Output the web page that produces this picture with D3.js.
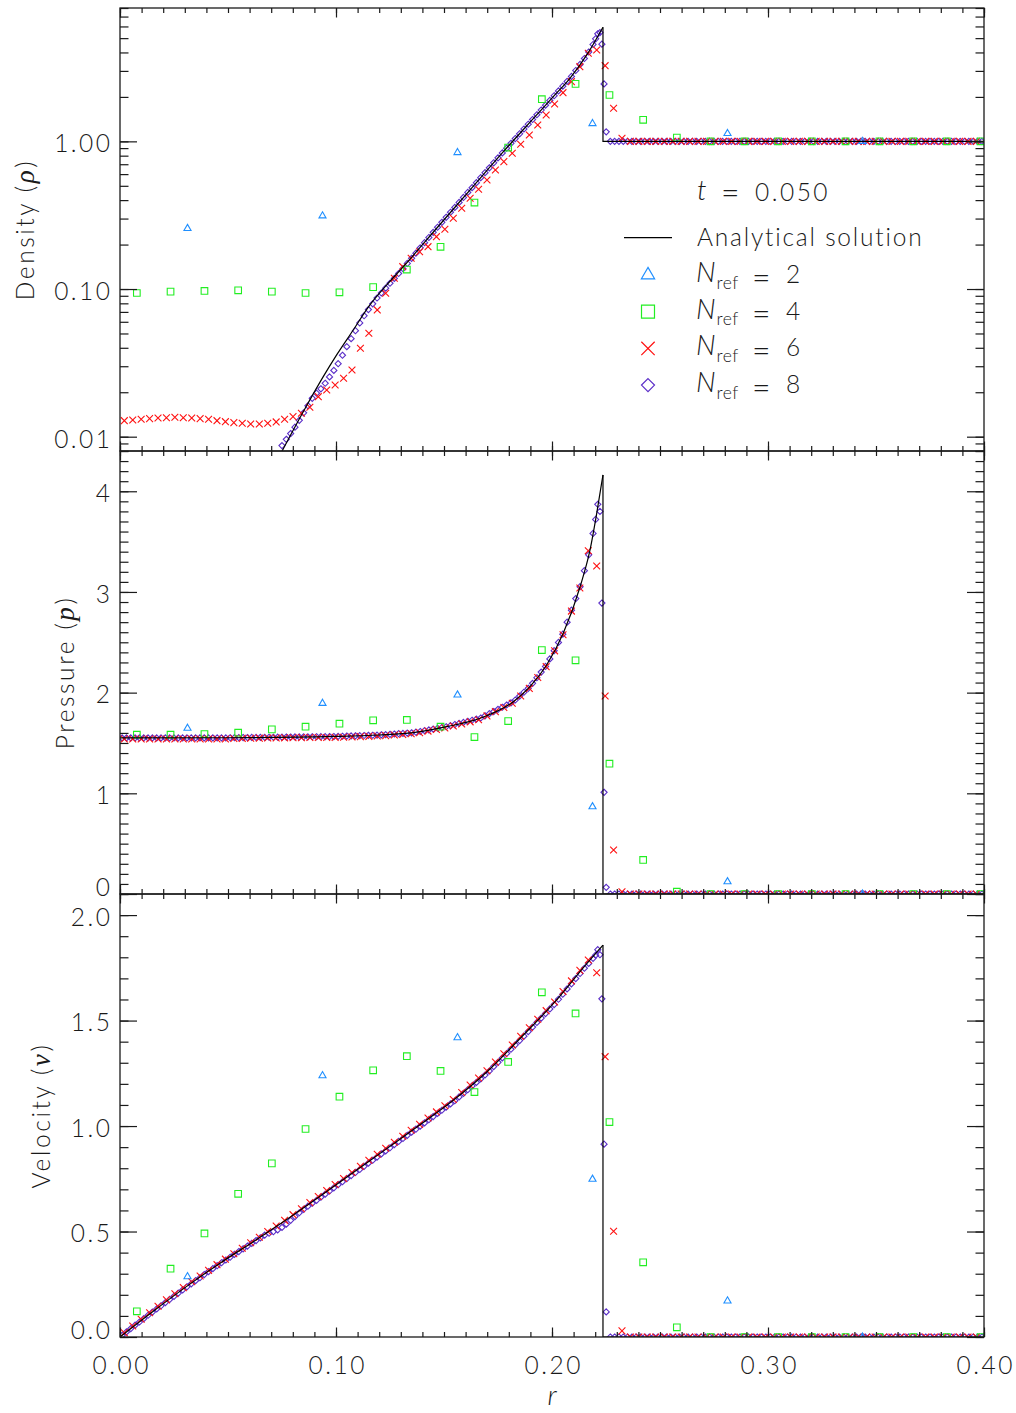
<!DOCTYPE html>
<html><head><meta charset="utf-8">
<script src="https://cdn.jsdelivr.net/npm/d3@7"></script>
<style>
body{margin:0;background:#fff;}
svg text{font-family:Lato,"Open Sans",sans-serif;font-weight:300;}
</style></head><body>
<svg id="c" width="1016" height="1413"></svg>
<script>
// ---------------- data ----------------
const xDomain=[0,0.4];
const rhoDomain=[0.008,8];
const pDomain=[0,4.4];
const vDomain=[0,2.1];
const xTicks=[0,0.1,0.2,0.3,0.4];
const xTickLabels=["0.00","0.10","0.20","0.30","0.40"];
const rhoTicks=[0.01,0.1,1];
const rhoTickLabels=["0.01","0.10","1.00"];
const pTicks=[0,1,2,3,4];
const pTickLabels=["0","1","2","3","4"];
const vTicks=[0,0.5,1,1.5,2];
const vTickLabels=["0.0","0.5","1.0","1.5","2.0"];
const timeLabel="0.050";
const lineLabel="Analytical solution";
const nrefLabels=["2","4","6","8"];

// analytical solution
const anaRhoR=[0.0749,0.0849,0.0941,0.1003,0.1080,0.1157,0.1235,0.1312,0.1466,0.1620,0.1775,0.1929,0.2006,0.2083,0.2161,0.2236,0.2236,0.4];
const anaRho=[0.00792,0.0148,0.0255,0.0358,0.0528,0.078,0.1066,0.1417,0.258,0.468,0.852,1.51,2.01,2.675,3.85,5.93,1.0,1.0];
const anaPR=[0,0.05,0.10,0.12,0.1358,0.1512,0.1667,0.1821,0.1898,0.1975,0.2052,0.2130,0.2176,0.2207,0.2236,0.2236,0.4];
const anaP=[1.550,1.552,1.565,1.579,1.602,1.662,1.745,1.910,2.059,2.274,2.589,3.052,3.417,3.781,4.162,0,0];
const anaVR=[0,0.0154,0.0309,0.0463,0.0617,0.0772,0.0926,0.1080,0.1235,0.1389,0.1543,0.1698,0.1852,0.2006,0.2161,0.2236,0.2236,0.4];
const anaV=[0,0.122,0.240,0.350,0.452,0.557,0.667,0.780,0.893,1.006,1.122,1.256,1.415,1.580,1.770,1.858,0,0];

// N_ref = 2
const n2R=[0.03125,0.09375,0.15625,0.21875,0.28125,0.34375];
const n2Rho=[0.257,0.313,0.84,1.32,1.13,1.0];
const n2P=[1.646,1.894,1.977,0.867,0.122,0.0];
const n2V=[0.286,1.239,1.419,0.748,0.171,0.0];

// N_ref = 4
const n4R=[0.0078,0.0234,0.0391,0.0547,0.0703,0.0859,0.1016,0.1172,0.1328,0.1484,0.1641,0.1797,0.1953,0.2109,0.2266,0.2422,0.2578,0.2734,0.2891,0.3047,0.3203,0.3359,0.3516,0.3672,0.3828,0.3984];
const n4Rho=[0.094,0.096,0.097,0.098,0.096,0.094,0.095,0.103,0.1355,0.193,0.385,0.908,1.93,2.45,2.06,1.40,1.06,1,1,1,1,1,1,1,1,1];
const n4P=[1.582,1.582,1.589,1.602,1.635,1.662,1.692,1.725,1.729,1.662,1.559,1.718,2.423,2.321,1.294,0.338,0.023,0,0,0,0,0,0,0,0,0];
const n4V=[0.122,0.324,0.491,0.679,0.823,0.986,1.139,1.264,1.331,1.261,1.161,1.304,1.634,1.534,1.019,0.354,0.046,0,0,0,0,0,0,0,0,0];

// N_ref = 6 (inner region + undisturbed region)
const n6RIn=[0.0020,0.0059,0.0098,0.0137,0.0176,0.0215,0.0254,0.0293,0.0332,0.0371,
0.0410,0.0449,0.0488,0.0527,0.0566,0.0605,0.0645,0.0684,0.0723,0.0762,
0.0801,0.0840,0.0879,0.0918,0.0957,0.0996,0.1035,0.1074,0.1113,0.1152,
0.1191,0.1230,0.1270,0.1309,0.1348,0.1387,0.1426,0.1465,0.1504,0.1543,
0.1582,0.1621,0.1660,0.1699,0.1738,0.1777,0.1816,0.1855,0.1895,0.1934,
0.1973,0.2012,0.2051,0.2090,0.2129,0.2168,0.2207,0.2246,0.2285,0.2324];
const n6RhoIn=[0.01284,0.01298,0.01312,0.01325,0.01339,0.01345,0.01354,0.01345,0.01339,0.01325,
0.01312,0.01284,0.01264,0.01245,0.01233,0.0122,0.0122,0.01233,0.01259,0.01312,
0.01367,0.01441,0.01583,0.01867,0.02073,0.0224,0.02487,0.0283,0.0397,0.0502,
0.0722,0.0936,0.1183,0.1417,0.1616,0.179,0.1936,0.2263,0.254,0.3014,
0.352,0.412,0.474,0.548,0.640,0.729,0.831,0.956,1.105,1.291,
1.509,1.792,2.137,2.537,3.205,3.951,4.16,3.255,1.675,1.05];
const n6PIn=[1.54,1.54,1.54,1.54,1.54,1.54,1.54,1.54,1.54,1.54,
1.54,1.54,1.54,1.545,1.546,1.547,1.548,1.549,1.55,1.551,
1.552,1.553,1.554,1.555,1.555,1.556,1.557,1.56,1.563,1.566,
1.569,1.573,1.579,1.585,1.591,1.603,1.618,1.634,1.649,1.669,
1.689,1.71,1.731,1.769,1.811,1.853,1.895,1.966,2.042,2.15,
2.258,2.415,2.575,2.81,3.04,3.41,3.258,1.967,0.437,0.023];
const n6VIn=[0.02,0.052,0.084,0.115,0.146,0.176,0.205,0.234,0.262,0.289,
0.316,0.343,0.369,0.395,0.421,0.447,0.473,0.50,0.526,0.553,
0.580,0.608,0.637,0.666,0.694,0.723,0.751,0.780,0.809,0.838,
0.866,0.895,0.923,0.952,0.980,1.008,1.038,1.067,1.096,1.126,
1.159,1.194,1.228,1.262,1.303,1.343,1.384,1.425,1.466,1.506,
1.547,1.588,1.638,1.688,1.738,1.787,1.727,1.329,0.501,0.029];
const n6ROut=[0.2363,0.2402,0.2441,0.2480,0.2520,0.2559,0.2598,0.2637,0.2676,0.2715,
0.2754,0.2793,0.2832,0.2871,0.2910,0.2949,0.2988,0.3027,0.3066,0.3105,
0.3145,0.3184,0.3223,0.3262,0.3301,0.3340,0.3379,0.3418,0.3457,0.3496,
0.3535,0.3574,0.3613,0.3652,0.3691,0.3730,0.3770,0.3809,0.3848,0.3887,
0.3926,0.3965];
const n6RhoOut=[1,1,1,1,1,1,1,1,1,1,1,1,1,1,1,1,1,1,1,1,1,1,1,1,1,1,1,1,1,1,1,1,1,1,1,1,1,1,1,1,1,1];
const n6POut=[0,0,0,0,0,0,0,0,0,0,0,0,0,0,0,0,0,0,0,0,0,0,0,0,0,0,0,0,0,0,0,0,0,0,0,0,0,0,0,0,0,0];
const n6VOut=[0,0,0,0,0,0,0,0,0,0,0,0,0,0,0,0,0,0,0,0,0,0,0,0,0,0,0,0,0,0,0,0,0,0,0,0,0,0,0,0,0,0];

// N_ref = 8 (inner region, shock cells, undisturbed region)
const n8RIn=[0.001,0.003,0.005,0.007,0.009,0.011,0.013,0.015,0.017,0.019,
0.021,0.023,0.025,0.027,0.029,0.031,0.033,0.035,0.037,0.039,
0.041,0.043,0.045,0.047,0.049,0.051,0.053,0.055,0.057,0.059,
0.061,0.063,0.065,0.067,0.069,0.071,0.073,0.075,0.077,0.079,
0.081,0.083,0.085,0.087,0.089,0.091,0.093,0.095,0.097,0.099,
0.101,0.103,0.105,0.107,0.109,0.111,0.113,0.115,0.117,0.119,
0.121,0.123,0.125,0.127,0.129,0.131,0.133,0.135,0.137,0.139,
0.141,0.143,0.145,0.147,0.149,0.151,0.153,0.155,0.157,0.159,
0.161,0.163,0.165,0.167,0.169,0.171,0.173,0.175,0.177,0.179,
0.181,0.183,0.185,0.187,0.189,0.191,0.193,0.195,0.197,0.199,
0.201,0.203,0.205,0.207,0.209,0.211,0.213,0.215,0.217,0.219];
const n8RhoIn=[null,null,null,null,null,null,null,null,null,null,
null,null,null,null,null,null,null,null,null,null,
null,null,null,null,null,null,null,null,null,null,
null,null,null,null,null,null,null,0.0087,0.0096,0.0105,
0.0116,0.0129,0.0145,0.0162,0.0182,0.0197,0.0211,0.0230,0.0254,0.0281,
0.0312,0.0356,0.0407,0.0461,0.0522,0.0589,0.0659,0.0726,0.0794,0.0869,
0.0940,0.1014,0.1094,0.118,0.1274,0.1374,0.149,0.1614,0.175,0.190,
0.206,0.2234,0.242,0.262,0.283,0.306,0.331,0.357,0.386,0.417,
0.451,0.486,0.525,0.568,0.614,0.662,0.716,0.773,0.835,0.899,
0.970,1.045,1.125,1.213,1.306,1.406,1.514,1.63,1.758,1.892,
2.037,2.196,2.366,2.547,2.754,3.02,3.32,3.64,4.03,4.53];
const n8PIn=[1.55,1.55,1.55,1.55,1.55,1.55,1.55,1.55,1.55,1.55,
1.55,1.55,1.55,1.55,1.55,1.55,1.55,1.55,1.55,1.55,
1.55,1.55,1.55,1.55,1.55,1.552,1.553,1.553,1.554,1.554,
1.555,1.555,1.556,1.556,1.557,1.557,1.558,1.558,1.559,1.559,
1.56,1.56,1.561,1.561,1.562,1.562,1.563,1.563,1.564,1.564,
1.566,1.567,1.569,1.57,1.571,1.573,1.574,1.576,1.577,1.578,
1.581,1.583,1.586,1.589,1.592,1.595,1.598,1.601,1.607,1.614,
1.622,1.63,1.638,1.646,1.654,1.661,1.672,1.683,1.694,1.704,
1.715,1.726,1.737,1.748,1.77,1.791,1.812,1.834,1.855,1.877,
1.898,1.927,1.966,2.004,2.043,2.092,2.148,2.204,2.26,2.335,
2.417,2.499,2.581,2.70,2.819,2.934,3.052,3.211,3.369,3.581];
const n8VIn=[0.008,0.024,0.040,0.056,0.071,0.087,0.103,0.118,0.133,0.148,
0.163,0.178,0.193,0.208,0.223,0.238,0.252,0.267,0.281,0.296,
0.310,0.324,0.338,0.352,0.365,0.378,0.392,0.405,0.418,0.431,
0.444,0.457,0.470,0.483,0.492,0.499,0.508,0.520,0.535,0.553,
0.571,0.589,0.605,0.620,0.634,0.648,0.663,0.677,0.692,0.707,
0.722,0.736,0.751,0.765,0.780,0.794,0.809,0.824,0.838,0.853,
0.868,0.882,0.897,0.912,0.927,0.941,0.956,0.971,0.985,1.000,
1.015,1.030,1.045,1.060,1.075,1.090,1.105,1.120,1.138,1.155,
1.172,1.190,1.207,1.224,1.242,1.261,1.282,1.302,1.323,1.344,
1.364,1.385,1.405,1.426,1.448,1.469,1.491,1.512,1.533,1.555,
1.576,1.601,1.625,1.650,1.674,1.699,1.723,1.748,1.771,1.795];
const n8RShock=[0.2202,0.2212,0.2222,0.2231,0.2241,0.2251];
const n8RhoShock=[4.95,5.35,5.45,4.55,2.45,1.16];
const n8PShock=[3.72,3.87,3.80,2.89,1.01,0.066];
const n8VShock=[1.81,1.836,1.812,1.603,0.914,0.119];
const n8ROut=[0.227,0.229,0.231,0.233,0.235,0.237,0.239,0.241,0.243,0.245,
0.247,0.249,0.251,0.253,0.255,0.257,0.259,0.261,0.263,0.265,
0.267,0.269,0.271,0.273,0.275,0.277,0.279,0.281,0.283,0.285,
0.287,0.289,0.291,0.293,0.295,0.297,0.299,0.301,0.303,0.305,
0.307,0.309,0.311,0.313,0.315,0.317,0.319,0.321,0.323,0.325,
0.327,0.329,0.331,0.333,0.335,0.337,0.339,0.341,0.343,0.345,
0.347,0.349,0.351,0.353,0.355,0.357,0.359,0.361,0.363,0.365,
0.367,0.369,0.371,0.373,0.375,0.377,0.379,0.381,0.383,0.385,
0.387,0.389,0.391,0.393,0.395,0.397,0.399];
const n8RhoOut=[1,1,1,1,1,1,1,1,1,1,1,1,1,1,1,1,1,1,1,1,1,1,1,1,1,1,1,1,1,1,1,1,1,1,1,1,1,1,1,1,1,1,1,1,1,1,1,1,1,1,1,1,1,1,1,1,1,1,1,1,1,1,1,1,1,1,1,1,1,1,1,1,1,1,1,1,1,1,1,1,1,1,1,1,1,1,1];
const n8POut=[0,0,0,0,0,0,0,0,0,0,0,0,0,0,0,0,0,0,0,0,0,0,0,0,0,0,0,0,0,0,0,0,0,0,0,0,0,0,0,0,0,0,0,0,0,0,0,0,0,0,0,0,0,0,0,0,0,0,0,0,0,0,0,0,0,0,0,0,0,0,0,0,0,0,0,0,0,0,0,0,0,0,0,0,0,0,0];
const n8VOut=[0,0,0,0,0,0,0,0,0,0,0,0,0,0,0,0,0,0,0,0,0,0,0,0,0,0,0,0,0,0,0,0,0,0,0,0,0,0,0,0,0,0,0,0,0,0,0,0,0,0,0,0,0,0,0,0,0,0,0,0,0,0,0,0,0,0,0,0,0,0,0,0,0,0,0,0,0,0,0,0,0,0,0,0,0,0,0];

// ---------------- drawing ----------------
const L=120,R=984,PH=443;
const SANS='Lato,"Open Sans",sans-serif';
const SERIF='"Liberation Serif","DejaVu Serif",serif';
const INK='#1a1a1a';
const TICKFS=24.5, TICKLS=2.5;
const svg=d3.select('#c');
const x=d3.scaleLinear().domain(xDomain).range([L,R]);
const yRho=d3.scaleLog().domain(rhoDomain).range([8+PH,8]);
const yP=d3.scaleLinear().domain(pDomain).range([8+2*PH,8+PH]);
const yV=d3.scaleLinear().domain(vDomain).range([8+3*PH,8+2*PH]);

const series=[
 {r:n8RIn.concat(n8RShock,n8ROut),rho:n8RhoIn.concat(n8RhoShock,n8RhoOut),p:n8PIn.concat(n8PShock,n8POut),v:n8VIn.concat(n8VShock,n8VOut),sym:d3.symbolDiamond2,size:24,color:'#5a2dc8'},
 {r:n6RIn.concat(n6ROut),rho:n6RhoIn.concat(n6RhoOut),p:n6PIn.concat(n6POut),v:n6VIn.concat(n6VOut),sym:d3.symbolTimes,size:32,color:'#ff1010'},
 {r:n4R,rho:n4Rho,p:n4P,v:n4V,sym:d3.symbolSquare2,size:56,color:'#22ee22'},
 {r:n2R,rho:n2Rho,p:n2P,v:n2V,sym:d3.symbolTriangle2,size:36,color:'#1f8fff'}
];

const panels=[
 {key:'rho',y:yRho,top:8,ticks:rhoTicks,labels:rhoTickLabels,minor:yRho.ticks(),title:['Density (','ρ',')'],tx:34,ana:[anaRhoR,anaRho]},
 {key:'p',y:yP,top:8+PH,ticks:pTicks,labels:pTickLabels,minor:yP.ticks(44),title:['Pressure (','p',')'],tx:74,ana:[anaPR,anaP]},
 {key:'v',y:yV,top:8+2*PH,ticks:vTicks,labels:vTickLabels,minor:yV.ticks(21),title:['Velocity (','v',')'],tx:50,ana:[anaVR,anaV]}
];

function styleAxis(sel){
  sel.select('.domain').remove();
  sel.attr('font-family',null).attr('font-size',null).attr('color',INK);
  sel.selectAll('line').attr('stroke-width',1.2);
  sel.selectAll('text').attr('font-size',TICKFS).attr('font-family',SANS).attr('letter-spacing',TICKLS);
}

panels.forEach((p,i)=>{
  const g=svg.append('g');
  const bottom=p.top+PH;
  const isLast=i===panels.length-1;
  g.append('clipPath').attr('id','clip'+i).append('rect').attr('x',L).attr('y',p.top).attr('width',R-L).attr('height',PH);
  const plot=g.append('g').attr('clip-path',`url(#clip${i})`);
  series.forEach(s=>{
    const vals=s[p.key];
    const pts=s.r.map((r,j)=>[r,vals[j]]).filter(d=>d[1]!=null);
    plot.append('g').selectAll('path').data(pts).join('path')
      .attr('transform',d=>`translate(${x(d[0])},${p.y(d[1])})`)
      .attr('d',d3.symbol(s.sym,s.size))
      .attr('fill','none').attr('stroke',s.color).attr('stroke-width',1.1);
  });
  // analytic line
  const apts=p.ana[0].map((r,j)=>[r,p.ana[1][j]]);
  const pk=d3.maxIndex(apts,d=>d[1]);
  const smooth=d3.line().x(d=>x(d[0])).y(d=>p.y(d[1])).curve(d3.curveMonotoneX);
  const lin=d3.line().x(d=>x(d[0])).y(d=>p.y(d[1]));
  plot.append('path').attr('d',smooth(apts.slice(0,pk+1))).attr('fill','none').attr('stroke','#000').attr('stroke-width',1.2);
  plot.append('path').attr('d',lin(apts.slice(pk))).attr('fill','none').attr('stroke','#000').attr('stroke-width',1.2);

  // axes (ticks inward on all sides)
  g.append('g').attr('transform',`translate(0,${bottom})`).call(d3.axisBottom(x).tickValues(x.ticks(40)).tickSize(-5).tickFormat('')).call(styleAxis);
  const xa=g.append('g').attr('transform',`translate(0,${bottom})`).call(d3.axisBottom(x).tickValues(xTicks).tickSize(-9.5).tickPadding(20).tickFormat((d,j)=>isLast?xTickLabels[j]:'')).call(styleAxis);
  xa.selectAll('text').attr('dx',TICKLS/2);
  g.append('g').attr('transform',`translate(0,${p.top})`).call(d3.axisTop(x).tickValues(x.ticks(40)).tickSize(-5).tickFormat('')).call(styleAxis);
  g.append('g').attr('transform',`translate(0,${p.top})`).call(d3.axisTop(x).tickValues(xTicks).tickSize(-9.5).tickFormat('')).call(styleAxis);
  g.append('g').attr('transform',`translate(${L},0)`).call(d3.axisLeft(p.y).tickValues(p.minor).tickSize(-8.5).tickFormat('')).call(styleAxis);
  const ya=g.append('g').attr('transform',`translate(${L},0)`).call(d3.axisLeft(p.y).tickValues(p.ticks).tickSize(-17).tickPadding(10).tickFormat((d,j)=>p.labels[j])).call(styleAxis);
  ya.selectAll('text').attr('dx',TICKLS).attr('transform',d=>Math.abs(p.y(d)-bottom)<1?'translate(0,-6.5)':'translate(0,2.5)');
  g.append('g').attr('transform',`translate(${R},0)`).call(d3.axisRight(p.y).tickValues(p.minor).tickSize(-8.5).tickFormat('')).call(styleAxis);
  g.append('g').attr('transform',`translate(${R},0)`).call(d3.axisRight(p.y).tickValues(p.ticks).tickSize(-17).tickFormat('')).call(styleAxis);
  g.append('rect').attr('x',L).attr('y',p.top).attr('width',R-L).attr('height',PH).attr('fill','none').attr('stroke',INK).attr('stroke-width',1.3);
  // y title
  const t=g.append('text').attr('transform',`translate(${p.tx},${p.top+PH/2}) rotate(-90)`).attr('text-anchor','middle').attr('font-size',24.5).attr('letter-spacing',2.6).attr('fill',INK).attr('font-family',SANS);
  t.append('tspan').text(p.title[0]);
  t.append('tspan').attr('font-family',SERIF).attr('font-style','italic').attr('font-size',27).text(p.title[1]);
  t.append('tspan').text(p.title[2]);
});

// x title
svg.append('text').attr('x',x(0.2)).attr('y',1405).attr('text-anchor','middle').attr('font-family',SERIF).attr('font-style','italic').attr('font-size',28).attr('fill',INK).text('r');

// legend
const lg=svg.append('g').attr('fill',INK);
lg.append('text').attr('x',697).attr('y',200).attr('font-family',SERIF).attr('font-style','italic').attr('font-size',28).text('t');
lg.append('text').attr('x',721).attr('y',203.5).attr('font-size',32).attr('font-family',SANS).text('=');
lg.append('text').attr('x',755).attr('y',201).attr('font-size',24.5).attr('letter-spacing',2.5).attr('font-family',SANS).text(timeLabel);
lg.append('line').attr('x1',624).attr('x2',672).attr('y1',237.7).attr('y2',237.7).attr('stroke','#000').attr('stroke-width',1.2);
lg.append('text').attr('x',697).attr('y',246).attr('font-size',24.5).attr('letter-spacing',1.8).attr('font-family',SANS).text(lineLabel);
const legSeries=[series[3],series[2],series[1],series[0]];
const legSize=[125,215,118,108];
nrefLabels.forEach((lab,i)=>{
  const cy=275+i*36.7;
  const s=legSeries[i];
  lg.append('path').attr('transform',`translate(648,${cy})`).attr('d',d3.symbol(s.sym,legSize[i])).attr('fill','none').attr('stroke',s.color).attr('stroke-width',1.2);
  lg.append('text').attr('x',696).attr('y',cy+7).attr('font-family',SERIF).attr('font-style','italic').attr('font-size',28).text('N');
  lg.append('text').attr('x',716.5).attr('y',cy+13.5).attr('font-family',SANS).attr('font-size',17.5).attr('letter-spacing',0.5).text('ref');
  lg.append('text').attr('x',752).attr('y',cy+13.5).attr('font-family',SANS).attr('font-size',32).text('=');
  lg.append('text').attr('x',786).attr('y',cy+8).attr('font-family',SANS).attr('font-size',24.5).text(lab);
});
</script>
</body></html>
